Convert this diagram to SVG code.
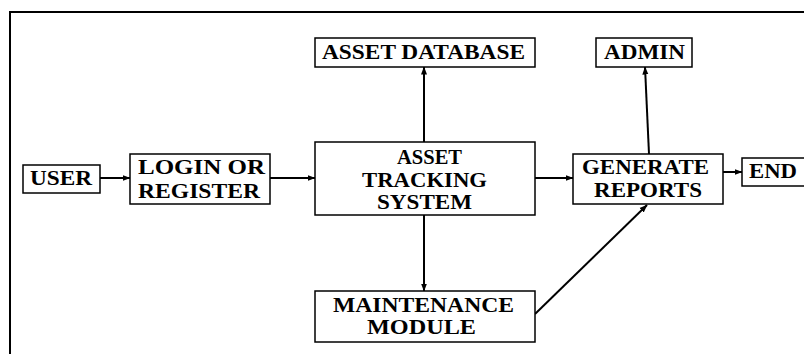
<svg xmlns="http://www.w3.org/2000/svg" width="804" height="354" viewBox="0 0 804 354">
  <defs>
    <marker id="arrow" viewBox="0 0 8 8" refX="7.5" refY="4" markerWidth="8" markerHeight="8" markerUnits="userSpaceOnUse" orient="auto">
      <path d="M0,1 L8,4 L0,7 Z" fill="#000"/>
    </marker>
  </defs>
  <style>
    .box { fill: #fff; stroke: #000; stroke-width: 1.5; }
    .lbl { font-weight: bold; font-size: 20px; fill: #000; text-anchor: middle; }
    .edge { stroke: #000; stroke-width: 2; fill: none; marker-end: url(#arrow); }
  </style>
  <rect width="804" height="354" fill="#fff"/>
  <!-- outer frame -->
  <path d="M10,360 L10,12 L810,12" fill="none" stroke="#000" stroke-width="2"/>

  <g id="connectors">
    <line class="edge" x1="100" y1="178" x2="130" y2="178"/>
    <line class="edge" x1="270" y1="178" x2="315" y2="178"/>
    <line class="edge" x1="535" y1="178" x2="573" y2="178"/>
    <line class="edge" x1="723" y1="172" x2="742" y2="172"/>
    <line class="edge" x1="424" y1="142" x2="424" y2="67"/>
    <line class="edge" x1="649" y1="154" x2="645" y2="67"/>
    <line class="edge" x1="424" y1="215" x2="424" y2="291"/>
    <line class="edge" x1="535" y1="314" x2="647" y2="205"/>
  </g>

  <g font-family="Liberation Serif, Tinos, DejaVu Serif, serif">
  <g id="user">
    <rect class="box" x="23" y="165" width="77" height="28"/>
    <text class="lbl" x="61" y="185" textLength="62" lengthAdjust="spacingAndGlyphs">USER</text>
  </g>
  <g id="login">
    <rect class="box" x="130" y="154" width="140" height="50"/>
    <text class="lbl" x="201.5" y="174" textLength="127" lengthAdjust="spacingAndGlyphs">LOGIN OR</text>
    <text class="lbl" x="199" y="198" textLength="122" lengthAdjust="spacingAndGlyphs">REGISTER</text>
  </g>
  <g id="asset-database">
    <rect class="box" x="315" y="38" width="220" height="29"/>
    <text class="lbl" x="423.5" y="59" textLength="203" lengthAdjust="spacingAndGlyphs">ASSET DATABASE</text>
  </g>
  <g id="asset-tracking">
    <rect class="box" x="315" y="142" width="220" height="73"/>
    <text class="lbl" x="429.5" y="164" textLength="65" lengthAdjust="spacingAndGlyphs">ASSET</text>
    <text class="lbl" x="424.5" y="187" textLength="125" lengthAdjust="spacingAndGlyphs">TRACKING</text>
    <text class="lbl" x="424.5" y="209" textLength="95" lengthAdjust="spacingAndGlyphs">SYSTEM</text>
  </g>
  <g id="maintenance">
    <rect class="box" x="315" y="291" width="220" height="51"/>
    <text class="lbl" x="423.5" y="312" textLength="181" lengthAdjust="spacingAndGlyphs">MAINTENANCE</text>
    <text class="lbl" x="421.5" y="334" textLength="109" lengthAdjust="spacingAndGlyphs">MODULE</text>
  </g>
  <g id="admin">
    <rect class="box" x="596" y="38" width="96" height="29"/>
    <text class="lbl" x="644.5" y="59" textLength="81" lengthAdjust="spacingAndGlyphs">ADMIN</text>
  </g>
  <g id="reports">
    <rect class="box" x="573" y="154" width="150" height="50"/>
    <text class="lbl" x="645.5" y="174" textLength="127" lengthAdjust="spacingAndGlyphs">GENERATE</text>
    <text class="lbl" x="648" y="197" textLength="108" lengthAdjust="spacingAndGlyphs">REPORTS</text>
  </g>
  <g id="end">
    <rect class="box" x="742" y="158" width="66" height="28"/>
    <text class="lbl" x="773" y="178" textLength="48" lengthAdjust="spacingAndGlyphs">END</text>
  </g>
  </g>
</svg>
